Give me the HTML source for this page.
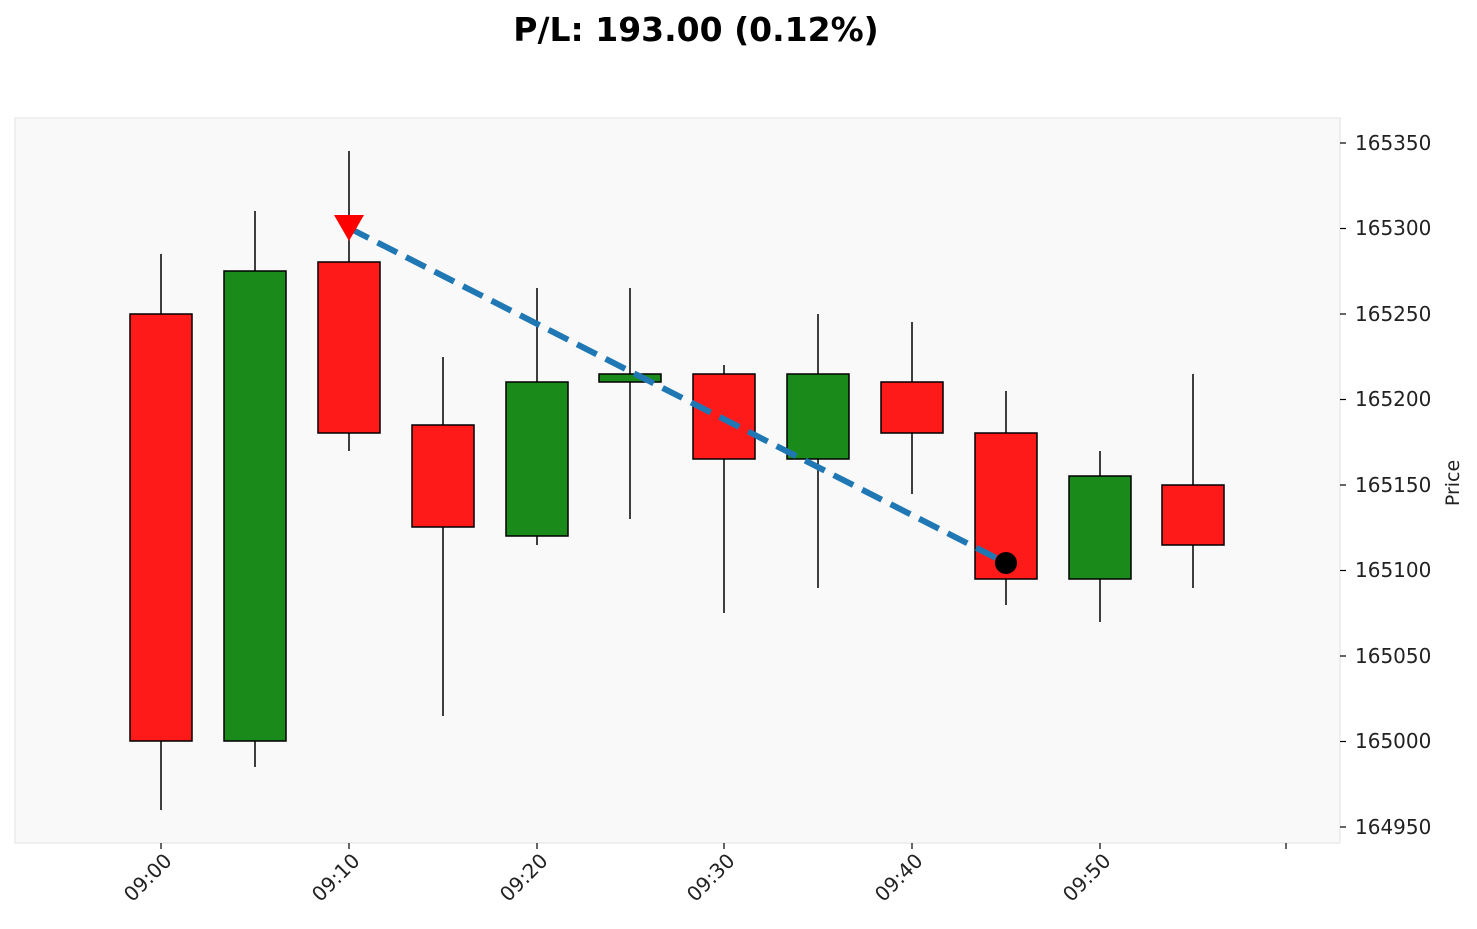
<!DOCTYPE html>
<html><head><meta charset="utf-8"><style>body{margin:0;background:#fff}svg{display:block}</style></head><body>
<svg width="1477" height="929" xmlns="http://www.w3.org/2000/svg" font-family="DejaVu Sans, Liberation Sans, sans-serif">
<text x="696" y="41" text-anchor="middle" font-size="33" font-weight="bold">P/L: 193.00 (0.12%)</text>
<rect x="15" y="118" width="1325" height="725" fill="#f9f9f9" stroke="#ebebeb" stroke-width="1.5"/>
<g stroke="#000" stroke-width="1.5">
<line x1="161" y1="254" x2="161" y2="810"/>
<line x1="255" y1="211" x2="255" y2="767"/>
<line x1="349" y1="151" x2="349" y2="451"/>
<line x1="443" y1="357" x2="443" y2="716"/>
<line x1="537" y1="288" x2="537" y2="545"/>
<line x1="630" y1="288" x2="630" y2="519"/>
<line x1="724" y1="365" x2="724" y2="613"/>
<line x1="818" y1="314" x2="818" y2="588"/>
<line x1="912" y1="322" x2="912" y2="494"/>
<line x1="1006" y1="391" x2="1006" y2="605"/>
<line x1="1100" y1="451" x2="1100" y2="622"/>
<line x1="1193" y1="374" x2="1193" y2="588"/>
</g>
<g stroke="#000" stroke-width="1.5">
<rect x="130" y="314" width="62" height="427" fill="#ff1a1a"/>
<rect x="224" y="271" width="62" height="470" fill="#1a8a1a"/>
<rect x="318" y="262" width="62" height="171" fill="#ff1a1a"/>
<rect x="412" y="425" width="62" height="102" fill="#ff1a1a"/>
<rect x="506" y="382" width="62" height="154" fill="#1a8a1a"/>
<rect x="599" y="374" width="62" height="8" fill="#1a8a1a"/>
<rect x="693" y="374" width="62" height="85" fill="#ff1a1a"/>
<rect x="787" y="374" width="62" height="85" fill="#1a8a1a"/>
<rect x="881" y="382" width="62" height="51" fill="#ff1a1a"/>
<rect x="975" y="433" width="62" height="146" fill="#ff1a1a"/>
<rect x="1069" y="476" width="62" height="103" fill="#1a8a1a"/>
<rect x="1162" y="485" width="62" height="60" fill="#ff1a1a"/>
</g>
<line x1="349" y1="228" x2="1006" y2="563" stroke="#1f77b4" stroke-width="6" stroke-dasharray="22,10"/>
<polygon points="334,215 364,215 349,241" fill="#ff0000"/>
<circle cx="1006" cy="563" r="11" fill="#000"/>
<g stroke="#000" stroke-width="1.2">
<line x1="1340" y1="143" x2="1346" y2="143"/><line x1="1340" y1="228.5" x2="1346" y2="228.5"/>
<line x1="1340" y1="314" x2="1346" y2="314"/><line x1="1340" y1="399.5" x2="1346" y2="399.5"/>
<line x1="1340" y1="485" x2="1346" y2="485"/><line x1="1340" y1="570.5" x2="1346" y2="570.5"/>
<line x1="1340" y1="656" x2="1346" y2="656"/><line x1="1340" y1="741.5" x2="1346" y2="741.5"/>
<line x1="1340" y1="827" x2="1346" y2="827"/>
</g>
<g font-size="20" fill="#222">
<text x="1355" y="150">165350</text><text x="1355" y="235">165300</text>
<text x="1355" y="321">165250</text><text x="1355" y="406">165200</text>
<text x="1355" y="492">165150</text><text x="1355" y="577">165100</text>
<text x="1355" y="663">165050</text><text x="1355" y="748">165000</text>
<text x="1355" y="834">164950</text>
</g>
<text transform="translate(1459,483) rotate(-90)" text-anchor="middle" font-size="19" fill="#222">Price</text>
<g stroke="#000" stroke-width="1.2">
<line x1="161" y1="843" x2="161" y2="849"/><line x1="349" y1="843" x2="349" y2="849"/>
<line x1="537" y1="843" x2="537" y2="849"/><line x1="724" y1="843" x2="724" y2="849"/>
<line x1="912" y1="843" x2="912" y2="849"/><line x1="1100" y1="843" x2="1100" y2="849"/>
<line x1="1286" y1="843" x2="1286" y2="849"/>
</g>
<g font-size="20" fill="#222" text-anchor="end">
<text transform="translate(173,862) rotate(-45)">09:00</text>
<text transform="translate(361,862) rotate(-45)">09:10</text>
<text transform="translate(549,862) rotate(-45)">09:20</text>
<text transform="translate(736,862) rotate(-45)">09:30</text>
<text transform="translate(924,862) rotate(-45)">09:40</text>
<text transform="translate(1112,862) rotate(-45)">09:50</text>
</g>
</svg>
</body></html>
